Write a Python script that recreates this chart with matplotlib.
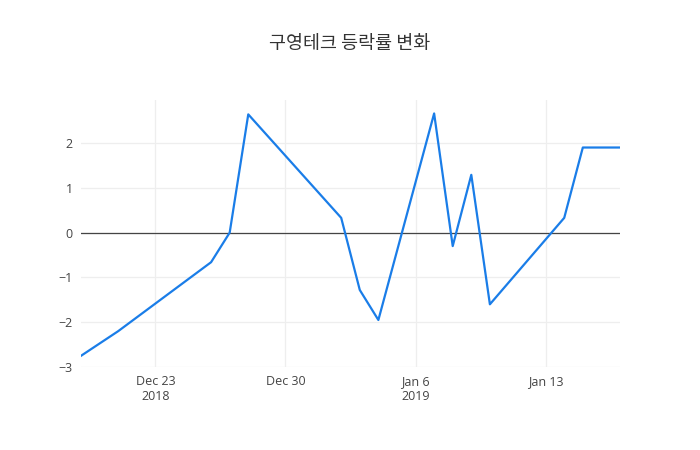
import numpy as np
import pandas as pd
import matplotlib
matplotlib.use('Agg')
import matplotlib.pyplot as plt
import matplotlib.dates as mdates

plt.rcParams['font.family'] = ['Open Sans', 'Noto Sans CJK KR', 'DejaVu Sans']

# data
dates = pd.to_datetime(['2018-12-19', '2018-12-21', '2018-12-26', '2018-12-27', '2018-12-28',
                        '2019-01-02', '2019-01-03', '2019-01-04', '2019-01-07', '2019-01-08',
                        '2019-01-09', '2019-01-10', '2019-01-14', '2019-01-15', '2019-01-17'])
change = [-2.75, -2.2, -0.66, 0.0, 2.64,
          0.33, -1.28, -1.95, 2.66, -0.30,
          1.29, -1.60, 0.33, 1.90, 1.90]
tick_dates = pd.to_datetime(['2018-12-23', '2018-12-30', '2019-01-06', '2019-01-13'])
tick_labels = ['Dec 23\n2018', 'Dec 30', 'Jan 6\n2019', 'Jan 13']
y_ticks = [-3, -2, -1, 0, 1, 2]
title = '구영테크 등락률 변화'

fig = plt.figure(figsize=(7, 4.5), dpi=100)
ax = fig.add_axes([0.1157, 0.1844, 0.77, 0.5933])

ax.plot(dates, change, color='#1a7de8', lw=1.6, zorder=3)
ax.axhline(0, color='#444444', lw=0.9, zorder=2)

ax.set_xlim(dates[0], dates[-1])
ax.set_ylim(-3.0, 2.96)
ax.set_xticks(tick_dates)
ax.set_xticklabels(tick_labels)
ax.set_yticks(y_ticks)
ax.set_yticklabels([str(v).replace('-', '\u2212') for v in y_ticks])
ax.grid(True, color='#eeeeee', lw=0.9, zorder=0)
ax.tick_params(length=0, labelsize=9, colors='#444444', pad=6)
for s in ax.spines.values():
    s.set_visible(False)

fig.text(0.5, 0.902, title, ha='center', va='center', fontsize=13.3, color='#333333',
         family=['Noto Sans CJK KR', 'DejaVu Sans'])

fig.savefig('out.png', dpi=100)
